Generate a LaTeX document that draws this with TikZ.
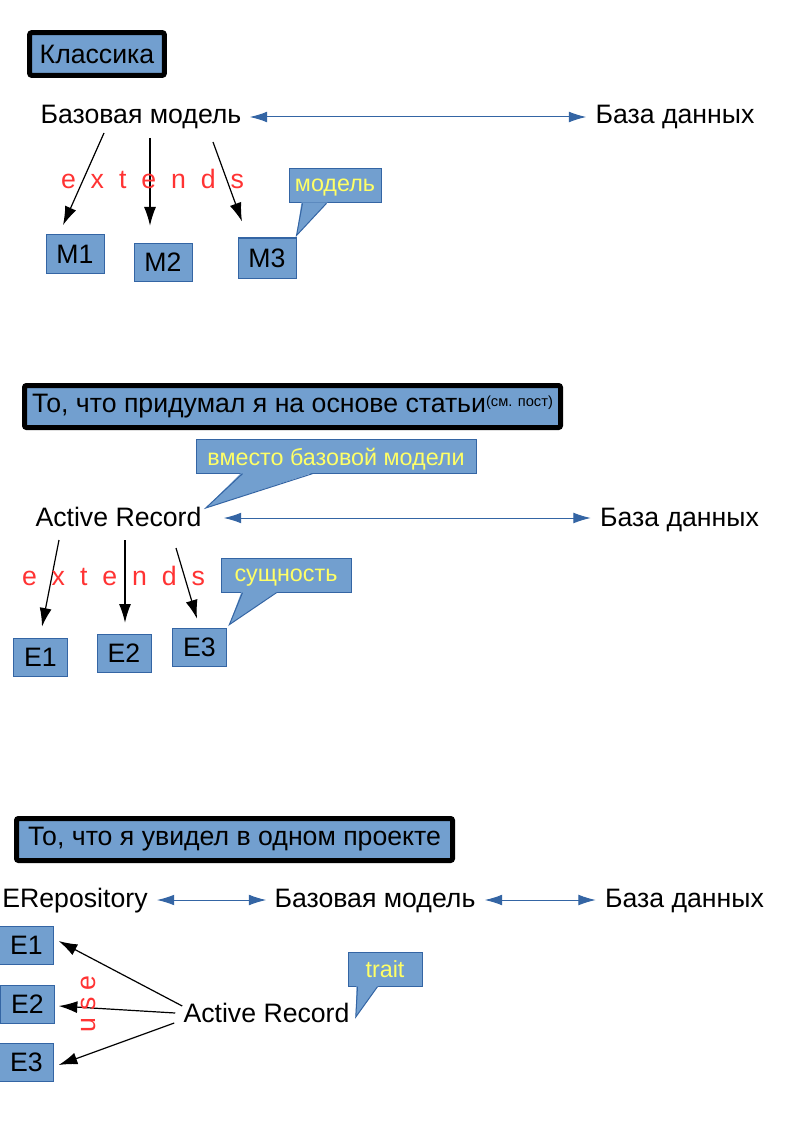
\documentclass[tikz,border=0pt]{standalone}
\usepackage{fontspec}
\setmainfont{Liberation Sans}
\usetikzlibrary{arrows.meta,calc}

\definecolor{boxblue}{HTML}{729FCF}
\definecolor{edgeblue}{HTML}{3465A4}
\definecolor{notered}{HTML}{FF3333}
\definecolor{noteyellow}{HTML}{FFFF66}

\tikzset{
  txt/.style={inner sep=0pt, font=\fontsize{20}{24}\selectfont},
  titlebox/.style={draw=black, line width=3.75pt, rounded corners=1.5pt,
    fill=boxblue, inner sep=0pt, font=\fontsize{20}{24}\selectfont},
  ebox/.style={draw=edgeblue, line width=0.75pt, fill=boxblue, inner sep=0pt,
    minimum height=29pt, font=\fontsize{20}{24}\selectfont},
  note/.style={draw=edgeblue, line width=0.75pt, fill=boxblue, inner sep=0pt,
    minimum height=25pt, text depth=0pt, text=noteyellow, font=\fontsize{17.5}{21}\selectfont},
  tail/.style={draw=edgeblue, line width=0.75pt},
  ext/.style={-{Latex[length=14pt,width=9pt]}, line width=0.9pt},
  dbl/.style={{Latex[length=13pt,width=8pt]}-{Latex[length=13pt,width=8pt]},
    draw=edgeblue, line width=0.75pt},
  spread/.style={inner sep=0pt, text=notered, font=\fontsize{20}{24}\selectfont,
    execute at begin node={\spaceskip=0.56em\relax}},
}

\begin{document}
\begin{tikzpicture}[x=0.75pt, y=-0.75pt]
    \path[use as bounding box, fill=white] (0,0) rectangle (794,1123);

    % --- Классика ---
    \node[titlebox, minimum width=101pt, minimum height=32pt] (title1) at (97,54) {Классика};

    \node[txt, anchor=base] (base1) at (141,124) {Базовая модель};
    \node[txt, anchor=base] (db1) at (675,124) {База данных};
    \draw[dbl] ($(base1.base east)+(8,-7)$) -- ($(db1.base west)+(-9,-7)$);

    \node[ebox, minimum width=43.5pt] (m1) at (75,254) {M1};
    \node[ebox, minimum width=43.5pt] (m2) at (163,262.5) {M2};
    \node[ebox, minimum width=43.5pt, minimum height=30pt] (m3) at (267,258) {M3};

    \draw[ext] ($(base1.base)+(-37,9)$) -- ($(m1.north)+(-12,-9)$);
    \draw[ext] ($(base1.base)+(9,14)$) -- ($(m2.north)+(-13,-17)$);
    \draw[ext] ($(base1.base)+(72,18)$) -- ($(m3.north)+(-25,-16)$);
    \node[spread] (ext1) at (152.5,178.5) {e x t e n d s};

    \node[note, minimum width=69pt, minimum height=26pt] (note1) at (335,185.5) {модель};
    \coordinate (tip1) at ($(m3.north east)+(0,-2)$);
    \fill[boxblue] ($(note1.south west)+(13,-1)$) -- (tip1) -- ($(note1.south west)+(39,-1)$) -- cycle;
    \draw[tail] ($(note1.south west)+(14,0)$) -- (tip1) -- ($(note1.south west)+(38,0)$);

    % --- на основе статьи ---
    \node[titlebox, minimum width=402pt, minimum height=31.5pt] (title2) at (292.5,406.5)
      {То, что придумал я на основе статьи\raisebox{5pt}{\fontsize{11}{13}\selectfont(см. пост)}};

    \node[txt, anchor=base] (ar2) at (118.5,526) {Active Record};
    \node[txt, anchor=base] (db2) at (679.5,526) {База данных};
    \draw[dbl] ($(ar2.base east)+(22,-8)$) -- ($(db2.base west)+(-9,-8)$);

    \node[note, minimum width=210pt] (note2) at (336,456.5) {вместо базовой модели};
    \coordinate (tip2) at ($(ar2.base east)+(4,-18)$);
    \fill[boxblue] ($(note2.south west)+(46,-1)$) -- (tip2) -- ($(note2.south west)+(118,-1)$) -- cycle;
    \draw[tail] ($(note2.south west)+(47,0)$) -- (tip2) -- ($(note2.south west)+(117,0)$);

    \node[ebox, minimum width=41pt] (e21) at (40.5,657.5) {E1};
    \node[ebox, minimum width=40.5pt] (e22) at (124,653.5) {E2};
    \node[ebox, minimum width=41pt] (e23) at (199.5,647.5) {E3};

    \draw[ext] ($(ar2.base)+(-59.5,14)$) -- ($(e21.north)+(1.5,-11)$);
    \draw[ext] ($(ar2.base)+(6.5,14)$) -- ($(e22.north)+(1,-11)$);
    \draw[ext] ($(ar2.base)+(57.5,22)$) -- ($(e23.north)+(-2.5,-9)$);
    \node[spread] (ext2) at (113.5,575.5) {e x t e n d s};

    \node[note, minimum width=97.5pt] (note3) at (286,575.5) {сущность};
    \coordinate (tip3) at ($(e23.north east)+(2,-3)$);
    \fill[boxblue] ($(note3.south west)+(21,-1)$) -- (tip3) -- ($(note3.south west)+(57,-1)$) -- cycle;
    \draw[tail] ($(note3.south west)+(22,0)$) -- (tip3) -- ($(note3.south west)+(56,0)$);

    % --- в одном проекте ---
    \node[titlebox, minimum width=327pt, minimum height=31.5pt] (title3) at (234.5,839.5)
      {То, что я увидел в одном проекте};

    \node[txt, anchor=base] (erep) at (75,907) {ERepository};
    \node[txt, anchor=base] (base3) at (375,907) {Базовая модель};
    \node[txt, anchor=base] (db3) at (684.5,907) {База данных};
    \draw[dbl] ($(erep.base east)+(9,-7)$) -- ($(base3.base west)+(-8,-7)$);
    \draw[dbl] ($(base3.base east)+(9,-7)$) -- ($(db3.base west)+(-9,-7)$);

    \node[ebox, minimum width=40pt] (e31) at (26.5,945.5) {E1};
    \node[ebox, minimum width=40pt] (e32) at (27.5,1004.5) {E2};
    \node[ebox, minimum width=40pt] (e33) at (26.5,1062.5) {E3};

    \node[txt, anchor=base] (ar3) at (266.5,1022) {Active Record};
    \draw[ext] ($(ar3.base west)+(-1,-16)$) -- ($(e31.east)+(5,-4.5)$);
    \draw[ext] ($(ar3.base west)+(-8,-9)$) -- ($(e32.east)+(4,1.5)$);
    \draw[ext] ($(ar3.base west)+(-9,1)$) -- ($(e33.east)+(5,2.5)$);
    \node[txt, text=notered, rotate=90] (use) at (88,1004) {u\kern5pt s\kern5pt e};

    \node[note, minimum width=55.5pt] (note4) at (385,969.5) {trait};
    \coordinate (tip4) at ($(ar3.base east)+(6,-5)$);
    \fill[boxblue] ($(note4.south west)+(9,-1)$) -- (tip4) -- ($(note4.south west)+(31,-1)$) -- cycle;
    \draw[tail] ($(note4.south west)+(10,0)$) -- (tip4) -- ($(note4.south west)+(30,0)$);
\end{tikzpicture}
\end{document}
